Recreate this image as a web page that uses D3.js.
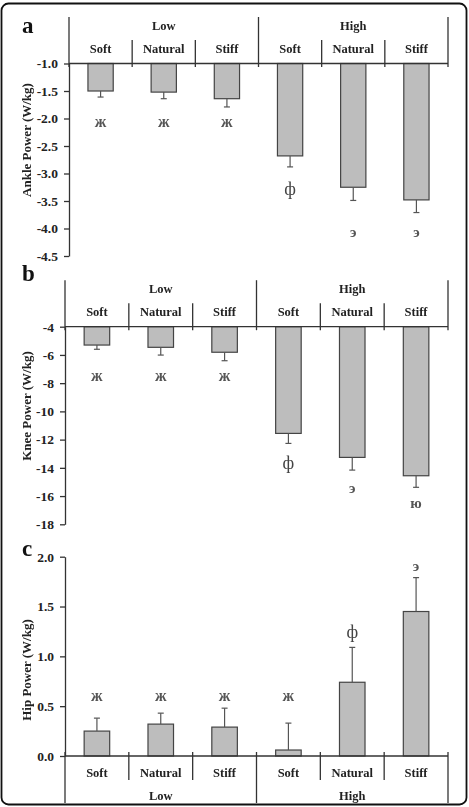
<!DOCTYPE html>
<html><head><meta charset="utf-8">
<script src="https://cdn.jsdelivr.net/npm/d3@7"></script>
<style>body{margin:0;background:#fff} svg{display:block} text{font-family:"Liberation Serif","Times New Roman",serif} .mk{opacity:0.999;will-change:transform}</style>
</head><body><svg id="chart" width="469" height="807"></svg>
<script>
const groups = ["Low", "High"];
const surfaces = ["Soft", "Natural", "Stiff"];

const ankleMean = [-1.50, -1.52, -1.64, -2.68, -3.25, -3.48];
const ankleSD   = [0.11, 0.12, 0.15, 0.20, 0.24, 0.23];
const ankleMarks   = ["ж", "ж", "ж", "ф", "э", "э"];
const ankleMarkAt  = [-2.08, -2.08, -2.08, -3.30, -4.08, -4.08];
const ankleTicks = [-1.0, -1.5, -2.0, -2.5, -3.0, -3.5, -4.0, -4.5];

const kneeMean = [-5.30, -5.46, -5.81, -11.56, -13.26, -14.56];
const kneeSD   = [0.30, 0.55, 0.60, 0.71, 0.90, 0.82];
const kneeMarks  = ["ж", "ж", "ж", "ф", "э", "ю"];
const kneeMarkAt = [-7.54, -7.54, -7.54, -13.73, -15.45, -16.52];
const kneeTicks = [-4, -6, -8, -10, -12, -14, -16, -18];

const hipMean = [0.25, 0.32, 0.29, 0.06, 0.74, 1.45];
const hipSD   = [0.13, 0.11, 0.19, 0.27, 0.35, 0.34];
const hipMarks  = ["ж", "ж", "ж", "ж", "ф", "э"];
const hipMarkAt = [0.595, 0.595, 0.595, 0.595, 1.232, 1.895];
const hipTicks = [0.0, 0.5, 1.0, 1.5, 2.0];

const panelLetters = ["a", "b", "c"];
const yLabels = ["Ankle Power (W/kg)", "Knee Power (W/kg)", "Hip Power (W/kg)"];

const cats = groups.flatMap(g => surfaces.map(s => g + "|" + s));

const svg = d3.select("#chart");
svg.append("rect").attr("x", 1.5).attr("y", 3.5).attr("width", 465).attr("height", 801)
  .attr("rx", 7).attr("fill", "none").attr("stroke", "#111").attr("stroke-width", 1.8);

const AX = "#333", TXT = "#222", MARK = "#555";

const panels = [
  {mean: ankleMean, sd: ankleSD, marks: ankleMarks, markAt: ankleMarkAt, ticks: ankleTicks,
   fmt: d => d.toFixed(1), domain: [-1, -4.5], yr: [63.5, 256], left: 69, base: -1, top: true,
   letterY: 33, labelY: 140},
  {mean: kneeMean, sd: kneeSD, marks: kneeMarks, markAt: kneeMarkAt, ticks: kneeTicks,
   fmt: d => String(d), domain: [-4, -18], yr: [326.7, 524.3], left: 65, base: -4, top: true,
   letterY: 281, labelY: 406},
  {mean: hipMean, sd: hipSD, marks: hipMarks, markAt: hipMarkAt, ticks: hipTicks,
   fmt: d => d.toFixed(1), domain: [2, 0], yr: [556.7, 756], left: 65, base: 0, top: false,
   letterY: 556, labelY: 670}
];

panels.forEach((p, pi) => {
  const g = svg.append("g");
  const x = d3.scaleBand().domain(cats).range([p.left, 448]).padding(0);
  const y = d3.scaleLinear().domain(p.domain).range(p.yr);
  const bw = x.bandwidth(), barW = bw * 0.4;
  const y0 = y(p.base);

  // y axis
  const ya = g.append("g").attr("transform", `translate(${p.left},0)`)
    .call(d3.axisLeft(y).tickValues(p.ticks).tickSizeInner(5).tickSizeOuter(0).tickPadding(6).tickFormat(p.fmt));
  ya.selectAll("path, line").attr("stroke", AX).attr("stroke-width", 1.3);
  ya.selectAll("text").attr("font-family", "Liberation Serif, serif").attr("font-size", 13.5)
    .attr("font-weight", "bold").attr("fill", TXT);

  const mk = g.append("g").attr("class", "mk");
  // bars
  cats.forEach((c, i) => {
    const v = p.mean[i];
    const cx = x(c) + bw / 2;
    const yv = y(v);
    g.append("rect").attr("x", cx - barW / 2).attr("y", Math.min(y0, yv))
      .attr("width", barW).attr("height", Math.abs(yv - y0))
      .attr("fill", "#bdbdbd").attr("stroke", "#444").attr("stroke-width", 1.2);
    const sign = v < p.base ? -1 : 1;
    const ye = y(v + sign * p.sd[i]);
    g.append("line").attr("x1", cx).attr("x2", cx).attr("y1", yv).attr("y2", ye)
      .attr("stroke", "#555").attr("stroke-width", 1.2);
    g.append("line").attr("x1", cx - 3).attr("x2", cx + 3).attr("y1", ye).attr("y2", ye)
      .attr("stroke", "#555").attr("stroke-width", 1.2);
    const m = p.marks[i];
    const fs = m === "ф" ? 18 : (m === "ж" ? 16 : 15);
    mk.append("text").attr("x", cx).attr("y", y(p.markAt[i]) + fs * 0.28)
      .attr("text-anchor", "middle").attr("font-size", fs).attr("fill", m === "ф" ? "#444" : MARK)
      .attr("font-weight", m === "ф" ? "normal" : "bold").text(m);
  });

  // category axis
  g.append("line").attr("x1", p.left).attr("x2", 448).attr("y1", y0).attr("y2", y0)
    .attr("stroke", AX).attr("stroke-width", 1.3);
  const bounds = cats.map(c => x(c)).concat([448]);
  const dir = p.top ? -1 : 1;
  bounds.forEach((bx, i) => {
    const isGroup = i % 3 === 0;
    let ya1, ya2;
    if (p.top) { ya1 = y0 - (isGroup ? 46.5 : 23.5); ya2 = y0 + 3.5; }
    else { ya1 = y0 - 4; ya2 = isGroup ? 803 : y0 + 24; }
    g.append("line").attr("x1", bx).attr("x2", bx).attr("y1", ya1).attr("y2", ya2)
      .attr("stroke", AX).attr("stroke-width", 1.3);
  });
  cats.forEach((c, i) => {
    g.append("text").attr("x", x(c) + bw / 2).attr("y", y0 + dir * (p.top ? 15.5 : 16) + 4.5)
      .attr("text-anchor", "middle").attr("font-size", 12.5).attr("font-weight", "bold")
      .attr("fill", TXT).text(surfaces[i % 3]);
  });
  groups.forEach((gr, gi) => {
    const gx = (bounds[gi * 3] + bounds[gi * 3 + 3]) / 2;
    g.append("text").attr("x", gx).attr("y", y0 + dir * (p.top ? 38.5 : 39) + 4.5)
      .attr("text-anchor", "middle").attr("font-size", 12.5).attr("font-weight", "bold")
      .attr("fill", TXT).text(gr);
  });

  // panel letter
  g.append("text").attr("x", 22).attr("y", p.letterY).attr("font-size", 23).attr("font-weight", "bold")
    .attr("fill", "#111").text(panelLetters[pi]);

  // y label
  g.append("text").attr("transform", `translate(31,${p.labelY}) rotate(-90)`)
    .attr("text-anchor", "middle").attr("font-size", 13).attr("font-weight", "bold")
    .attr("fill", TXT).text(yLabels[pi]);
});
</script></body></html>
